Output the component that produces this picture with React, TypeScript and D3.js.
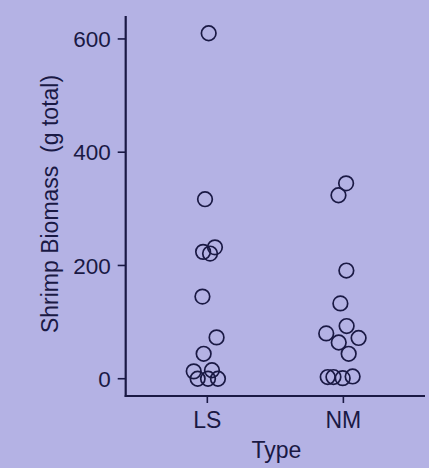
import React from 'react';
import * as d3 from 'd3';

// shrimp biomass per sample (g total), by habitat type
const categories = ['LS', 'NM'];
const lsValues = [610, 317, 232, 224, 221, 145, 73, 44, 13, 15, 0, 0, 0];
const lsJitter = [0.01, -0.017, 0.056, -0.031, 0.02, -0.036, 0.068, -0.027, -0.1, 0.034, -0.071, 0.005, 0.078];
const nmValues = [345, 324, 191, 133, 93, 80, 72, 64, 44, 3, 3, 1, 4];
const nmJitter = [0.02, -0.036, 0.022, -0.022, 0.024, -0.126, 0.112, -0.034, 0.039, -0.115, -0.073, -0.005, 0.068];
const yTicks = [0, 200, 400, 600];

const W = 429;
const H = 468;
const bg = '#b4b2e4';
const ink = '#1a1944';
const font = '"Liberation Sans", Arial, sans-serif';

const App = () => {
  const x = d3.scaleLinear().domain([0.4, 2.6]).range([125.7, 425]);
  const y = d3.scaleLinear().domain([-30.5, 640.5]).range([396, 16]);

  const points = [
    ...lsValues.map((v, i) => ({ cat: 1, off: lsJitter[i], v })),
    ...nmValues.map((v, i) => ({ cat: 2, off: nmJitter[i], v })),
  ];

  const [x0, x1] = x.range();
  const [yb, yt] = y.range();

  return (
    <svg
      width={W}
      height={H}
      style={{ position: 'absolute', left: 0, top: 0, display: 'block', background: bg }}
    >
      <rect width={W} height={H} fill={bg} />

      {/* points */}
      {points.map((d, i) => (
        <circle
          key={i}
          cx={x(d.cat + d.off)}
          cy={y(d.v)}
          r={7.3}
          fill="none"
          stroke={ink}
          strokeWidth={1.7}
        />
      ))}

      {/* y axis */}
      <line x1={x0} x2={x0} y1={yt} y2={yb + 1} stroke={ink} strokeWidth={2.2} />
      {yTicks.map((t) => (
        <g key={t} transform={`translate(0,${y(t)})`}>
          <line x1={x0 - 8} x2={x0} stroke={ink} strokeWidth={1.6} />
          <text
            x={x0 - 15}
            dy="0.36em"
            textAnchor="end"
            fontFamily={font}
            fontSize={22.5}
            fill={ink}
          >
            {t}
          </text>
        </g>
      ))}

      {/* x axis */}
      <line x1={x0 - 1} x2={x1} y1={yb} y2={yb} stroke={ink} strokeWidth={2.2} />
      {categories.map((c, i) => (
        <g key={c} transform={`translate(${x(i + 1)},${yb})`}>
          <line y1={0} y2={7} stroke={ink} strokeWidth={1.6} />
          <text y={32} textAnchor="middle" fontFamily={font} fontSize={23} fill={ink}>
            {c}
          </text>
        </g>
      ))}

      {/* titles */}
      <text
        x={(x0 + x1) / 2 + 1}
        y={458}
        textAnchor="middle"
        fontFamily={font}
        fontSize={23}
        fill={ink}
      >
        Type
      </text>
      <text
        transform={`translate(58,${(yt + yb) / 2 - 2}) rotate(-90)`}
        textAnchor="middle"
        fontFamily={font}
        fontSize={23}
        fill={ink}
      >
        {'Shrimp Biomass\u00a0\u00a0(g total)'}
      </text>
    </svg>
  );
};

export default App;
